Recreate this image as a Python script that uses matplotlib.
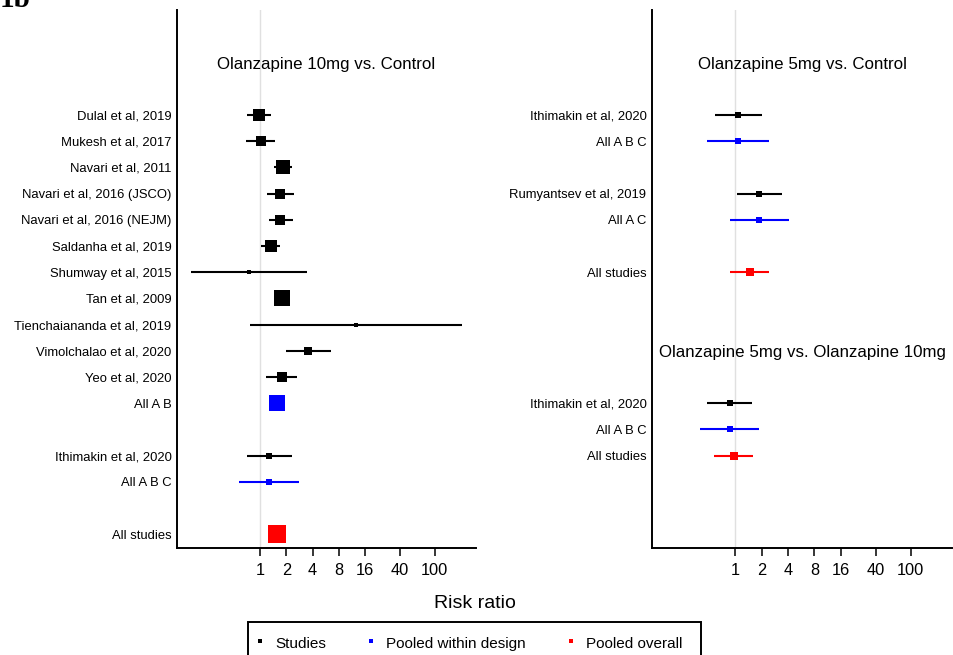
import matplotlib
matplotlib.use("Agg")
import matplotlib.pyplot as plt
from matplotlib.lines import Line2D
from matplotlib.patches import Rectangle
import numpy as np

plt.rcParams['font.family'] = ['Liberation Sans', 'DejaVu Sans']

# ---------------- data ----------------
# entries: kind = 'title', 'study', 'within', 'overall', or None (blank row)
left_labels = ["Olanzapine 10mg vs. Control", None,
               "Dulal et al, 2019", "Mukesh et al, 2017", "Navari et al, 2011",
               "Navari et al, 2016 (JSCO)", "Navari et al, 2016 (NEJM)",
               "Saldanha et al, 2019", "Shumway et al, 2015", "Tan et al, 2009",
               "Tienchaiananda et al, 2019", "Vimolchalao et al, 2020",
               "Yeo et al, 2020", "All A B", None,
               "Ithimakin et al, 2020", "All A B C", None, "All studies"]
left_kind = ['title', None,
             'study', 'study', 'study', 'study', 'study', 'study', 'study',
             'study', 'study', 'study', 'study', 'within', None,
             'study', 'within', None, 'overall']
left_rr = [None, None, 0.97, 1.02, 1.83, 1.69, 1.70, 1.32, 0.74, 1.77, 12.5,
           3.57, 1.77, 1.57, None, 1.27, 1.27, None, 1.55]
left_lo = [None, None, 0.71, 0.69, 1.45, 1.19, 1.25, 1.02, 0.16, 1.45, 0.77,
           1.98, 1.18, 1.38, None, 0.70, 0.58, None, 1.36]
left_hi = [None, None, 1.34, 1.49, 2.34, 2.45, 2.37, 1.70, 3.45, 2.17, 204.0,
           6.5, 2.63, 1.78, None, 2.32, 2.80, None, 1.76]
left_wt = [None, None, 53, 39, 77, 41, 45, 66, 6, 100, 6,
           21, 39, 100, None, 19, 14, None, 122]

right_labels = ["Olanzapine 5mg vs. Control", None,
                "Ithimakin et al, 2020", "All A B C", None,
                "Rumyantsev et al, 2019", "All A C", None, "All studies",
                None, None, "Olanzapine 5mg vs. Olanzapine 10mg", None,
                "Ithimakin et al, 2020", "All A B C", "All studies"]
right_kind = ['title', None, 'study', 'within', None, 'study', 'within', None,
              'overall', None, None, 'title', None, 'study', 'within', 'overall']
right_rr = [None, None, 1.08, 1.08, None, 1.88, 1.88, None, 1.46,
            None, None, None, None, 0.86, 0.86, 0.96]
right_lo = [None, None, 0.58, 0.48, None, 1.04, 0.86, None, 0.88,
            None, None, None, None, 0.48, 0.40, 0.57]
right_hi = [None, None, 2.04, 2.45, None, 3.42, 4.15, None, 2.43,
            None, None, None, None, 1.55, 1.88, 1.61]
right_wt = [None, None, 18, 12, None, 19, 14, None, 25,
            None, None, None, None, 19, 14, 23]

xticks = [1, 2, 4, 8, 16, 40, 100]
legend_labels = ["Studies", "Pooled within design", "Pooled overall"]

colors = {'study': 'black', 'within': '#0000ff', 'overall': '#ff0000'}

# ---------------- figure ----------------
W, H = 954, 655
fig = plt.figure(figsize=(W / 100, H / 100), dpi=100)


def fx(px):
    return px / W


def fy(py):
    return 1 - py / H


ax_top, ax_bot = 10, 548
axL = fig.add_axes([fx(177), fy(ax_bot), fx(476 - 177), (ax_bot - ax_top) / H])
axR = fig.add_axes([fx(652), fy(ax_bot), fx(952 - 652), (ax_bot - ax_top) / H])


def draw_panel(ax, labels, kind, rr, lo, hi, wt):
    ax.set_xscale('log')
    ax.set_xlim(0.112, 297)
    ax.set_ylim(16.53, -4.01)
    ax.axvline(1, color='#e0e0e0', lw=1.0, zorder=0)
    ytick_pos, ytick_lab = [], []
    for i, (lab, k) in enumerate(zip(labels, kind)):
        y = i - 2
        if k is None:
            continue
        if k == 'title':
            ax.text(np.sqrt(0.112 * 297), y + 0.06, lab, ha='center', va='center',
                    fontsize=12.2, color='black')
            continue
        c = colors[k]
        ax.hlines(y, lo[i], hi[i], color=c, lw=1.5, zorder=2)
        ms = 0.72 * 16 * np.sqrt(wt[i] / 100.0)
        ax.plot([rr[i]], [y], marker='s', ms=ms, color=c, mew=0, zorder=3)
        ytick_pos.append(y)
        ytick_lab.append(lab)
    ax.set_yticks(ytick_pos)
    ax.set_yticklabels(ytick_lab, fontsize=9.4)
    ax.tick_params(axis='y', length=0, pad=4)
    ax.set_xticks(xticks)
    ax.set_xticklabels([str(t) for t in xticks], fontsize=11.8)
    ax.xaxis.set_minor_locator(matplotlib.ticker.NullLocator())
    ax.tick_params(axis='x', length=6, width=1.1, pad=4.5, direction='out')
    for s in ['top', 'right']:
        ax.spines[s].set_visible(False)
    for s in ['left', 'bottom']:
        ax.spines[s].set_linewidth(1.4)
    ax.set_facecolor('none')


draw_panel(axL, left_labels, left_kind, left_rr, left_lo, left_hi, left_wt)
draw_panel(axR, right_labels, right_kind, right_rr, right_lo, right_hi, right_wt)

fig.text(fx(475), fy(604), "Risk ratio", ha='center', va='center', fontsize=14)

fig.text(fx(0), fy(7), "1b", ha='left', va='baseline', fontsize=21,
         fontweight='bold', family=['Liberation Serif', 'DejaVu Serif'])

handles = [Line2D([], [], ls='none', marker='s', ms=3.2, mew=0, color=colors[k])
           for k in ['study', 'within', 'overall']]
leg = fig.legend(handles, legend_labels, loc='upper left',
                 bbox_to_anchor=(fx(248), fy(625)), ncol=3, fontsize=11,
                 frameon=False,
                 borderpad=0.55, handlelength=0.5, handleheight=1.6,
                 handletextpad=0.75, columnspacing=2.68, borderaxespad=0)
frame = Rectangle((fx(248), fy(670)), fx(701 - 248), (670 - 622) / H,
                  transform=fig.transFigure, fill=False, edgecolor='black',
                  lw=1.4, clip_on=False)
fig.add_artist(frame)

fig.savefig("out.png", dpi=100)
